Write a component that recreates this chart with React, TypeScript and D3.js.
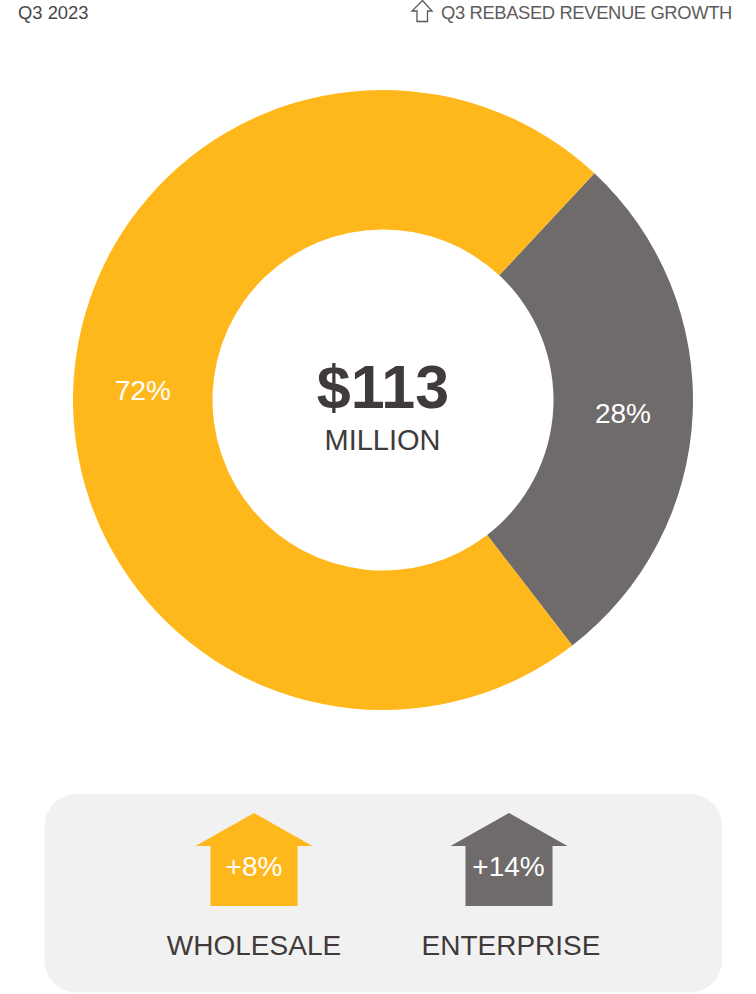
import React from "react";
import * as d3 from "d3";

const segmentNames = ["Enterprise", "Wholesale"];
const segmentShares = [27.6, 72.4];
const segmentLabels = ["28%", "72%"];
const segmentColors = ["#6f6b6b", "#ffb81c"];
const growthNames = ["WHOLESALE", "ENTERPRISE"];
const growthLabels = ["+8%", "+14%"];
const growthColors = ["#ffb81c", "#6f6b6b"];
const headerLeft = "Q3 2023";
const headerRight = "Q3 REBASED REVENUE GROWTH";
const centerValue = "$113";
const centerUnit = "MILLION";

const FONT = "'Liberation Sans', Arial, sans-serif";
const cx = 383, cy = 400, outer = 310, inner = 170.5;
const startDeg = 43;

function arrowPath(x: number) {
  const path = d3.path();
  path.moveTo(x, 813);
  path.lineTo(x + 58.5, 846);
  path.lineTo(x + 43.5, 846);
  path.lineTo(x + 43.5, 906);
  path.lineTo(x - 43.5, 906);
  path.lineTo(x - 43.5, 846);
  path.lineTo(x - 58.5, 846);
  path.closePath();
  return path.toString();
}

export default function App() {
  const pie = d3.pie<number>().sort(null)
    .startAngle((startDeg * Math.PI) / 180)
    .endAngle((startDeg * Math.PI) / 180 + 2 * Math.PI);
  const arcs = pie(segmentShares);
  const arc = d3.arc<d3.PieArcDatum<number>>().innerRadius(inner).outerRadius(outer);
  const labelPos = [[623, 423], [143, 400]];
  const arrowX = [254, 509];
  return (
    <svg width={756} height={994} style={{ position: "absolute", left: 0, top: 0, display: "block" }} fontFamily={FONT}>
      <text x={18} y={19} fontSize={18.4} fill="#4a4646">{headerLeft}</text>
      <path d="M422.5 0.5 L432 11 L427.5 11 L427.5 21.5 L417 21.5 L417 11 L412 11 Z" fill="none" stroke="#5a5656" strokeWidth={1.3} />
      <text x={441} y={19} fontSize={18.4} letterSpacing={-0.38} fill="#5f5b5b">{headerRight}</text>
      <g transform={`translate(${cx},${cy})`}>
        {arcs.map((a, i) => (
          <path key={segmentNames[i]} d={arc(a) as string} fill={segmentColors[i]} />
        ))}
      </g>
      {segmentLabels.map((l, i) => (
        <text key={l} x={labelPos[i][0]} y={labelPos[i][1]} fontSize={28} textAnchor="middle" fill="#ffffff">{l}</text>
      ))}
      <text x={383} y={408} fontSize={61} fontWeight={700} textAnchor="middle" fill="#403a3a">{centerValue}</text>
      <text x={382.5} y={450} fontSize={29} textAnchor="middle" fill="#403a3a">{centerUnit}</text>
      <rect x={44.5} y={794} width={677.5} height={198.5} rx={32} fill="#f1f1f1" />
      {growthNames.map((n, i) => (
        <g key={n}>
          <path d={arrowPath(arrowX[i])} fill={growthColors[i]} />
          <text x={arrowX[i] - (i ? 0.5 : 0)} y={876} fontSize={28} textAnchor="middle" fill="#ffffff">{growthLabels[i]}</text>
          <text x={i ? 511 : 254} y={955} fontSize={28} textAnchor="middle" fill="#403a3a">{n}</text>
        </g>
      ))}
    </svg>
  );
}
